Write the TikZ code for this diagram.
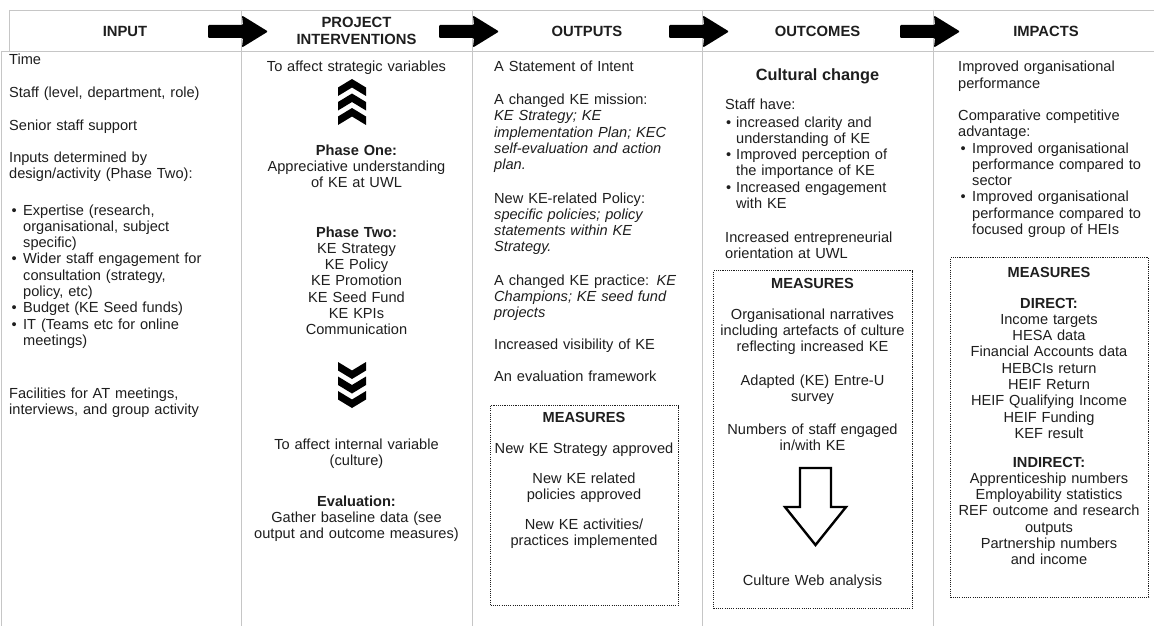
\documentclass[tikz,border=0pt]{standalone}
\usepackage{fontspec}
\setmainfont{Liberation Sans}
\definecolor{rulegrey}{HTML}{C6C6C6}
\definecolor{ink}{HTML}{1E1E1E}
\newcommand{\bodyfont}{\fontsize{14.6pt}{16.3pt}\selectfont}
\newcommand{\hdrfont}{\fontsize{14.8pt}{17pt}\selectfont\bfseries}
% bullet marks and continuation indents for the lists
\newcommand{\bulletmark}{\leavevmode\hbox to 14pt{\hskip 2.5pt\textbullet\hss}}
\newcommand{\contindent}{\leavevmode\hspace*{14pt}}
\newcommand{\bulletmarktight}{\leavevmode\hbox to 11pt{\hskip 1pt\textbullet\hss}}
\newcommand{\contindenttight}{\leavevmode\hspace*{11pt}}

\tikzset{
  tablerule/.style={draw=rulegrey, line width=0.9pt},
  lefttext/.style={font=\bodyfont, text=ink, inner sep=0pt, anchor=base west, text width=#1, align=left},
  lefttext/.default=225pt,
  midtext/.style={font=\bodyfont, text=ink, inner sep=0pt, anchor=base, text width=#1, align=center},
  midtext/.default=220pt,
  boldmid/.style={font=\bodyfont\bfseries, text=ink, inner sep=0pt, anchor=base},
  headtext/.style={font=\hdrfont, text=ink, inner sep=0pt, anchor=base, text width=200pt, align=center},
  measbox/.style={draw=ink, line width=1.1pt, dash pattern=on 1.1pt off 1.1pt, anchor=north west, inner sep=0pt},
  chevron/.style={fill=black},
}

\begin{document}
\begin{tikzpicture}[x=1pt, y=-1pt]
\useasboundingbox (0,0) rectangle (1154,626);
\fill[white] (0,0) rectangle (1154,626);

% table frame
\draw[tablerule] (9,10) -- (1154,10);
\draw[tablerule] (9,10) -- (9,51);
\draw[tablerule] (1,51) -- (1154,51);
\draw[tablerule] (1,51) -- (1,626);
\foreach \s in {241,472,702,933}
  \draw[tablerule] (\s,10) -- (\s,626);

% header cells
\node[headtext] (hIn)  at (125,36.5)   {INPUT};
\node[headtext] (hPI)  at (356.5,27.5) {PROJECT\\INTERVENTIONS};
\node[headtext] (hOut) at (587,36.5)   {OUTPUTS};
\node[headtext] (hOc)  at (817.5,36.5) {OUTCOMES};
\node[headtext] (hIm)  at (1046,36.5)  {IMPACTS};

% block arrows across the column borders
\foreach \s in {241,472,702,933}
  \fill[black, rounded corners=1pt] (\s-33,25) -- (\s+2,25) -- (\s+1,15.5) -- (\s+27,31.5)
        -- (\s+1,47.5) -- (\s+2,38) -- (\s-33,38) -- cycle;

% ---------------- INPUT ----------------
\node[lefttext] (inTime)   at (9,65)  {Time};
\node[lefttext] (inStaff)  at (9,97)  {Staff (level, department, role)};
\node[lefttext] (inSenior) at (9,130) {Senior staff support};
\node[lefttext] (inDesign) at (9,162) {Inputs determined by\\design/activity (Phase Two):};
\node[lefttext] (inList)   at (9,215) {\bulletmark Expertise (research,\\\contindent organisational, subject\\\contindent specific)\\%
  \bulletmark Wider staff engagement for\\\contindent consultation (strategy,\\\contindent policy, etc)\\%
  \bulletmark Budget (KE Seed funds)\\%
  \bulletmark IT (Teams etc for online\\\contindent meetings)};
\node[lefttext] (inFacil)  at (9,398) {Facilities for AT meetings,\\interviews, and group activity};

% ---------------- PROJECT INTERVENTIONS ----------------
\node[midtext] (piTop) at (356.5,72) {To affect strategic variables};
\foreach \k in {0,1,2}
  \fill[chevron] (352,79+14.5*\k) -- (366,87.5+14.5*\k) -- (366,96+14.5*\k) -- (352,87.5+14.5*\k)
        -- (338,96+14.5*\k) -- (338,87.5+14.5*\k) -- cycle;
\node[midtext] (piOne) at (356.5,155) {\textbf{Phase One:}\\Appreciative understanding\\of KE at UWL};
\node[midtext] (piTwo) at (356.5,237) {\textbf{Phase Two:}\\KE Strategy\\KE Policy\\KE Promotion\\KE Seed Fund\\KE KPIs\\Communication};
\foreach \k in {0,1,2}
  \fill[chevron] (338,362+14.5*\k) -- (352,370.5+14.5*\k) -- (366,362+14.5*\k) -- (366,370.5+14.5*\k)
        -- (352,379+14.5*\k) -- (338,370.5+14.5*\k) -- cycle;
\node[midtext] (piInt)  at (356.5,449) {To affect internal variable\\(culture)};
\node[midtext] (piEval) at (356.5,506) {\textbf{Evaluation:}\\Gather baseline data (see\\output and outcome measures)};

% ---------------- OUTPUTS ----------------
\node[lefttext=200pt] (opIntent)   at (494,72)    {A Statement of Intent};
\node[lefttext=200pt] (opMission)  at (494,104.5) {A changed KE mission:\\\textit{KE Strategy; KE}\\\textit{implementation Plan; KEC}\\\textit{self-evaluation and action}\\\textit{plan.}};
\node[lefttext=200pt] (opPolicy)   at (494,203)   {New KE-related Policy:\\\textit{specific policies; policy}\\\textit{statements within KE}\\\textit{Strategy.}};
\node[lefttext=200pt] (opPractice) at (494,285)   {A changed KE practice: \textit{KE}\\\textit{Champions; KE seed fund}\\\textit{projects}};
\node[lefttext=200pt] (opVis)      at (494,349)   {Increased visibility of KE};
\node[lefttext=200pt] (opEval)     at (494,381.5) {An evaluation framework};
\node[measbox, minimum width=188pt, minimum height=200pt] (opBox) at (490,405) {};
\node[boldmid] (opMeas) at (584,422) {MEASURES};
\node[midtext=186pt] (opM1) at (584,453) {New KE Strategy approved};
\node[midtext=186pt] (opM2) at (584,483) {New KE related\\policies approved};
\node[midtext=186pt] (opM3) at (584,529) {New KE activities/\\practices implemented};

% ---------------- OUTCOMES ----------------
\node[font=\fontsize{16.3pt}{19pt}\selectfont\bfseries, text=ink, inner sep=0pt, anchor=base] (ocTitle) at (817.5,81) {Cultural change};
\node[lefttext=205pt] (ocStaff)  at (725,110) {Staff have:};
\node[lefttext=205pt] (ocList)   at (725,127) {\bulletmarktight increased clarity and\\\contindenttight understanding of KE\\%
  \bulletmarktight Improved perception of\\\contindenttight the importance of KE\\%
  \bulletmarktight Increased engagement\\\contindenttight with KE};
\node[lefttext=205pt] (ocOrient) at (725,242) {Increased entrepreneurial\\orientation at UWL};
\node[measbox, minimum width=199pt, minimum height=338pt] (ocBox) at (713,270) {};
\node[boldmid] (ocMeas) at (812.5,288) {MEASURES};
\node[midtext=197pt] (ocM1) at (812.5,319) {Organisational narratives\\including artefacts of culture\\reflecting increased KE};
\node[midtext=197pt] (ocM2) at (812.5,385) {Adapted (KE) Entre-U\\survey};
\node[midtext=197pt] (ocM3) at (812.5,434) {Numbers of staff engaged\\in/with KE};
\draw[line width=2.4pt, line join=miter, fill=white] (800,468) -- (831,468) -- (831,507) -- (846,507)
      -- (815.5,545) -- (785,507) -- (800,507) -- cycle;
\node[midtext=197pt] (ocM4) at (812.5,585) {Culture Web analysis};

% ---------------- IMPACTS ----------------
\node[lefttext=190pt] (imPerf) at (958,72)  {Improved organisational\\performance};
\node[lefttext=190pt] (imComp) at (958,120) {Comparative competitive\\advantage:};
\node[lefttext=190pt] (imList) at (958,153) {\bulletmark Improved organisational\\\contindent performance compared to\\\contindent sector\\%
  \bulletmark Improved organisational\\\contindent performance compared to\\\contindent focused group of HEIs};
\node[measbox, minimum width=198pt, minimum height=340pt] (imBox) at (950,257) {};
\node[boldmid] (imMeas) at (1049,277) {MEASURES};
\node[midtext=196pt] (imDirect) at (1049,308) {\textbf{DIRECT:}\\Income targets\\HESA data\\Financial Accounts data\\HEBCIs return\\HEIF Return\\HEIF Qualifying Income\\HEIF Funding\\KEF result};
\node[midtext=196pt] (imIndirect) at (1049,467) {\textbf{INDIRECT:}\\Apprenticeship numbers\\Employability statistics\\REF outcome and research\\outputs\\Partnership numbers\\and income};
\end{tikzpicture}
\end{document}
